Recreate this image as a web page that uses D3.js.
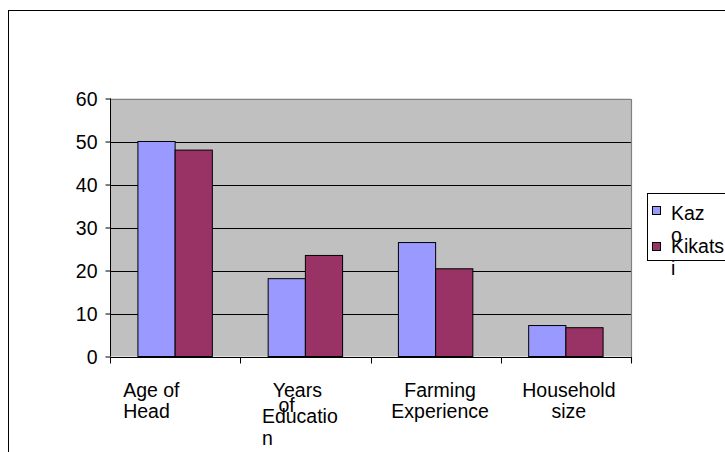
<!DOCTYPE html>
<html><head><meta charset="utf-8">
<script src="https://cdn.jsdelivr.net/npm/d3@7"></script>
<style>html,body{margin:0;padding:0;background:#fff;overflow:hidden}</style>
</head><body>
<script>
// ---- data ----
const categories = ["Age of Head", "Years of Education", "Farming Experience", "Household size"];
const categoryLabelLines = [["Age of", "Head"], ["Years", "of", "Educatio", "n"], ["Farming", "Experience"], ["Household", "size"]];
const seriesNames = ["Kazo", "Kikatsi"];
const seriesLegendLines = [["Kaz", "o"], ["Kikats", "i"]];
const kazoValues = [50, 18.1, 26.5, 7.2];
const kikatsiValues = [48, 23.5, 20.4, 6.7];
const yTickValues = [0, 10, 20, 30, 40, 50, 60];

// ---- layout / style ----
const W = 725, H = 452;
const plot = {left: 110, right: 631, top: 98.5, bottom: 356.5};
const colors = ["#9999FF", "#993366"];
const font = "'Liberation Sans', Arial, sans-serif";
const fs = 19.5;
// per-line placement of wrapped category labels (dx from band centre, baseline y, anchor)
const labelLayout = [
  [{dx: -52, y: 396.5, a: "start"}, {dx: -52, y: 418, a: "start"}],
  [{dx: -8, y: 396.5, a: "middle"}, {dx: -27, y: 412, a: "start"}, {dx: -43.5, y: 423, a: "start"}, {dx: -43.5, y: 445, a: "start"}],
  [{dx: 4.5, y: 396.5, a: "middle"}, {dx: 4.5, y: 418, a: "middle"}],
  [{dx: 3, y: 396.5, a: "middle"}, {dx: 3, y: 418, a: "middle"}]
];

const svg = d3.select("body").append("svg").attr("width", W).attr("height", H)
  .style("font-family", font);

// outer chart frame (extends beyond the picture on right and bottom)
svg.append("rect").attr("x", 8.5).attr("y", 10.5).attr("width", 800).attr("height", 600)
  .attr("fill", "#fff").attr("stroke", "#000").attr("stroke-width", 1);

const x = d3.scaleBand().domain(categories).range([plot.left, plot.right]).paddingInner(0).paddingOuter(0);
const bw = x.bandwidth();
const gap = bw * 1.5 / 3.5 / 2;
const xs = d3.scaleBand().domain(seriesNames).range([gap, bw - gap]).padding(0);
const y = d3.scaleLinear().domain([0, 60]).range([plot.bottom, plot.top]);

// plot background
svg.append("rect").attr("x", plot.left).attr("y", plot.top)
  .attr("width", plot.right - plot.left).attr("height", plot.bottom - plot.top)
  .attr("fill", "#C0C0C0");

// gridlines
svg.append("g").selectAll("line").data(yTickValues.filter(v => v > 0 && v < 60)).join("line")
  .attr("x1", plot.left).attr("x2", plot.right)
  .attr("y1", d => Math.round(y(d)) + 0.5).attr("y2", d => Math.round(y(d)) + 0.5)
  .attr("stroke", "#000").attr("stroke-width", 1);

// top & right plot border
svg.append("path")
  .attr("d", `M${plot.left},${Math.round(plot.top)+0.5}H${plot.right + 0.5}V${plot.bottom + 6}`)
  .attr("fill", "none").attr("stroke", "#808080").attr("stroke-width", 1.2);

// bars
const series = [kazoValues, kikatsiValues];
seriesNames.forEach((s, si) => {
  svg.append("g").selectAll("rect").data(categories).join("rect")
    .attr("x", (c) => x(c) + xs(s))
    .attr("y", (c, i) => y(series[si][i]))
    .attr("width", xs.bandwidth())
    .attr("height", (c, i) => y(0) - y(series[si][i]))
    .attr("fill", colors[si]).attr("stroke", "#000").attr("stroke-width", 1);
});

// y axis
const yAxis = svg.append("g").attr("transform", `translate(${plot.left + 0.5},0)`)
  .call(d3.axisLeft(y).tickValues(yTickValues).tickSize(5).tickPadding(8).tickFormat(d3.format("d")));
yAxis.select(".domain").attr("stroke", "#000").attr("d", `M0,${plot.top}V${plot.bottom}`);
yAxis.selectAll(".tick line").attr("stroke", "#000");
yAxis.selectAll("text").attr("font-size", fs).attr("font-family", font).attr("fill", "#000").attr("dy", "0.36em");

// x axis
const xAxisG = svg.append("g").attr("transform", `translate(0,${Math.round(plot.bottom) + 0.5})`);
xAxisG.append("line").attr("x1", plot.left).attr("x2", plot.right + 1).attr("stroke", "#000");
const boundaries = categories.map(c => x(c)).concat([plot.right]);
xAxisG.selectAll("line.t").data(boundaries).join("line").attr("class", "t")
  .attr("x1", d => Math.round(d) + 0.5).attr("x2", d => Math.round(d) + 0.5)
  .attr("y1", 0).attr("y2", 6).attr("stroke", "#000");

// category labels
categories.forEach((c, ci) => {
  const cx = x(c) + bw / 2;
  categoryLabelLines[ci].forEach((line, li) => {
    const L = labelLayout[ci][li];
    svg.append("text").attr("x", cx + L.dx).attr("y", L.y).attr("text-anchor", L.a)
      .attr("font-size", fs).attr("fill", "#000").text(line);
  });
});

// legend
const lg = svg.append("g");
lg.append("rect").attr("x", 647.5).attr("y", 193.5).attr("width", 120).attr("height", 67)
  .attr("fill", "#fff").attr("stroke", "#000").attr("stroke-width", 1);
const legendRows = [{sy: 206, lines: [220, 241.5]}, {sy: 242, lines: [253, 275]}];
seriesNames.forEach((s, si) => {
  lg.append("rect").attr("x", 652.5).attr("y", legendRows[si].sy + 0.5).attr("width", 8).attr("height", 8)
    .attr("fill", colors[si]).attr("stroke", "#000").attr("stroke-width", 1);
  seriesLegendLines[si].forEach((t, li) => {
    lg.append("text").attr("x", 671).attr("y", legendRows[si].lines[li])
      .attr("font-size", fs).attr("fill", "#000").text(t);
  });
});
</script>
</body></html>
